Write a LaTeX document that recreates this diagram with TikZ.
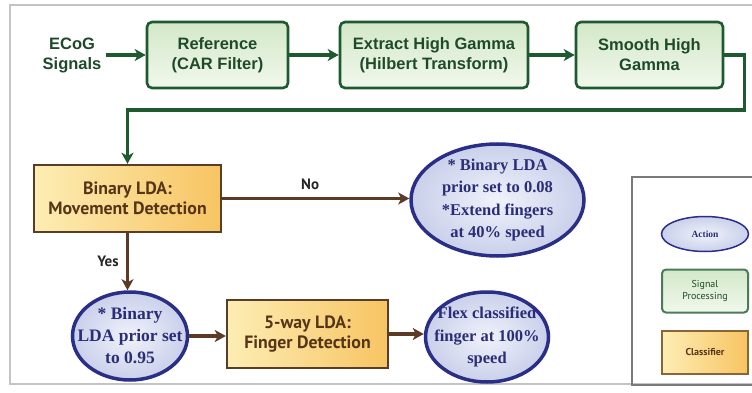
\documentclass[tikz,border=0pt]{standalone}
\usepackage{fontspec}
\setmainfont{Liberation Serif}
\newfontfamily\gsans{Liberation Sans}
\newfontfamily\ysans{PT Sans}
\usetikzlibrary{arrows.meta,shapes.geometric,calc}
\definecolor{gborder}{HTML}{1E5A30}
\definecolor{gtext}{HTML}{1F4A2A}
\definecolor{gfillA}{HTML}{D3E8C8}
\definecolor{gfillB}{HTML}{F1F8EC}
\definecolor{yborder}{HTML}{5A3D26}
\definecolor{ytext}{HTML}{553516}
\definecolor{yfillA}{HTML}{FDEDB4}
\definecolor{yfillB}{HTML}{F7C462}
\definecolor{eborder}{HTML}{2B2E86}
\definecolor{etext}{HTML}{2A2D78}
\definecolor{efillA}{HTML}{F0F2FA}
\definecolor{efillB}{HTML}{C9D0EA}
\definecolor{barrow}{HTML}{5B3A26}
\definecolor{framegray}{HTML}{C4C4C4}
\definecolor{legendgray}{HTML}{7A7A7A}
\tikzset{
  gbox/.style={draw=gborder, line width=2.6pt, rounded corners=5pt,
    top color=gfillA, bottom color=gfillB, text=gtext, align=center,
    font=\gsans\bfseries\fontsize{16.5}{20}\selectfont, inner sep=0pt},
  ybox/.style={draw=yborder, line width=2.4pt,
    left color=yfillA, right color=yfillB, text=ytext, align=center,
    font=\ysans\bfseries\fontsize{17.8}{20}\selectfont, inner sep=0pt},
  actell/.style={ellipse, draw=eborder, line width=3.5pt,
    inner color=efillA, outer color=efillB, text=etext, align=center,
    font=\bfseries\fontsize{16.5}{22.5}\selectfont, inner sep=-16pt},
  garrow/.style={draw=gborder, line width=3.2pt,
    -{Stealth[length=11pt,width=12pt,inset=3pt]}},
  barr/.style={draw=barrow, line width=3.2pt,
    -{Stealth[length=11pt,width=12pt,inset=3pt]}},
  lbl/.style={font=\ysans\bfseries\fontsize{15}{18}\selectfont, text=black!85},
}
\begin{document}
\begin{tikzpicture}[x=1pt,y=-1pt]
\useasboundingbox (0,0) rectangle (752,393);
\clip (0,0) rectangle (752,393);
\fill[white] (0,0) rectangle (752,393);
% outer frame
\draw[framegray, line width=1.6pt] (10,5) rectangle (780,384);
% legend frame
\draw[legendgray, line width=2.6pt] (632,177) rectangle (780,385);

% top row
\node[text=gtext, align=center, font=\gsans\bfseries\fontsize{16.5}{20}\selectfont] (ecog) at (72,55) {ECoG\\Signals};
\node[gbox, minimum width=141, minimum height=66] (ref) at (217.5,55) {Reference\\(CAR Filter)};
\node[gbox, minimum width=188, minimum height=66] (hilb) at (434,55) {Extract High Gamma\\(Hilbert Transform)};
\node[gbox, minimum width=147, minimum height=66] (smooth) at (649.5,55) {Smooth High\\Gamma};

% classifiers and actions
\node[ybox, minimum width=187, minimum height=67] (blda) at (127.5,198.5) {Binary LDA:\\Movement Detection};
\node[actell, minimum width=173, minimum height=112] (e1) at (497.5,200) {* Binary LDA\\prior set to 0.08\\*Extend fingers\\at 40\% speed};
\node[actell, minimum width=115, minimum height=88, font=\bfseries\fontsize{17.5}{22}\selectfont] (e2) at (130,336) {* Binary\\LDA prior set\\to 0.95};
\node[ybox, minimum width=161, minimum height=68] (five) at (307.5,334) {5-way LDA:\\Finger Detection};
\node[actell, minimum width=123, minimum height=90] (flex) at (487,337) {Flex classified\\finger at 100\%\\speed};

% arrows
\draw[garrow] (ecog.east) ++(1,0) -- (ref.west);
\draw[garrow] (ref.east) -- (hilb.west);
\draw[garrow] (hilb.east) -- (smooth.west);
\draw[garrow] (smooth.east) -- ++(20,0) -- ++(0,55) -| (blda.north);
\draw[barr] (blda.east) -- node[lbl, above=4pt, pos=0.47] {No} (blda.east -| e1.west);
\draw[barr] (blda.south) -- node[lbl, left=4pt, pos=0.5] {Yes} (blda.south |- e2.north);
\draw[barr] (e2.east) -- (e2.east -| five.west);
\draw[barr] (five.east) -- (five.east -| flex.west);

% legend
\node[ellipse, draw=eborder, line width=1.5pt, inner color=efillA, outer color=efillB,
  minimum width=87, minimum height=35, inner sep=0pt, text=etext,
  font=\bfseries\fontsize{9.5}{11}\selectfont] (lact) at (705,234) {Action};
\node[draw=gborder!80, line width=2pt, rounded corners=4pt, top color=gfillA, bottom color=gfillB,
  minimum width=86, minimum height=43, inner sep=0pt, text=gtext, align=center,
  font=\ysans\fontsize{10}{12.5}\selectfont] (lsig) at (705,291) {Signal\\Processing};
\node[draw=yborder!70!yfillB, line width=2pt, left color=yfillA, right color=yfillB,
  minimum width=86, minimum height=43, inner sep=0pt, text=ytext,
  font=\ysans\bfseries\fontsize{10}{12}\selectfont] (lcls) at (705,352) {Classifier};
\end{tikzpicture}
\end{document}
